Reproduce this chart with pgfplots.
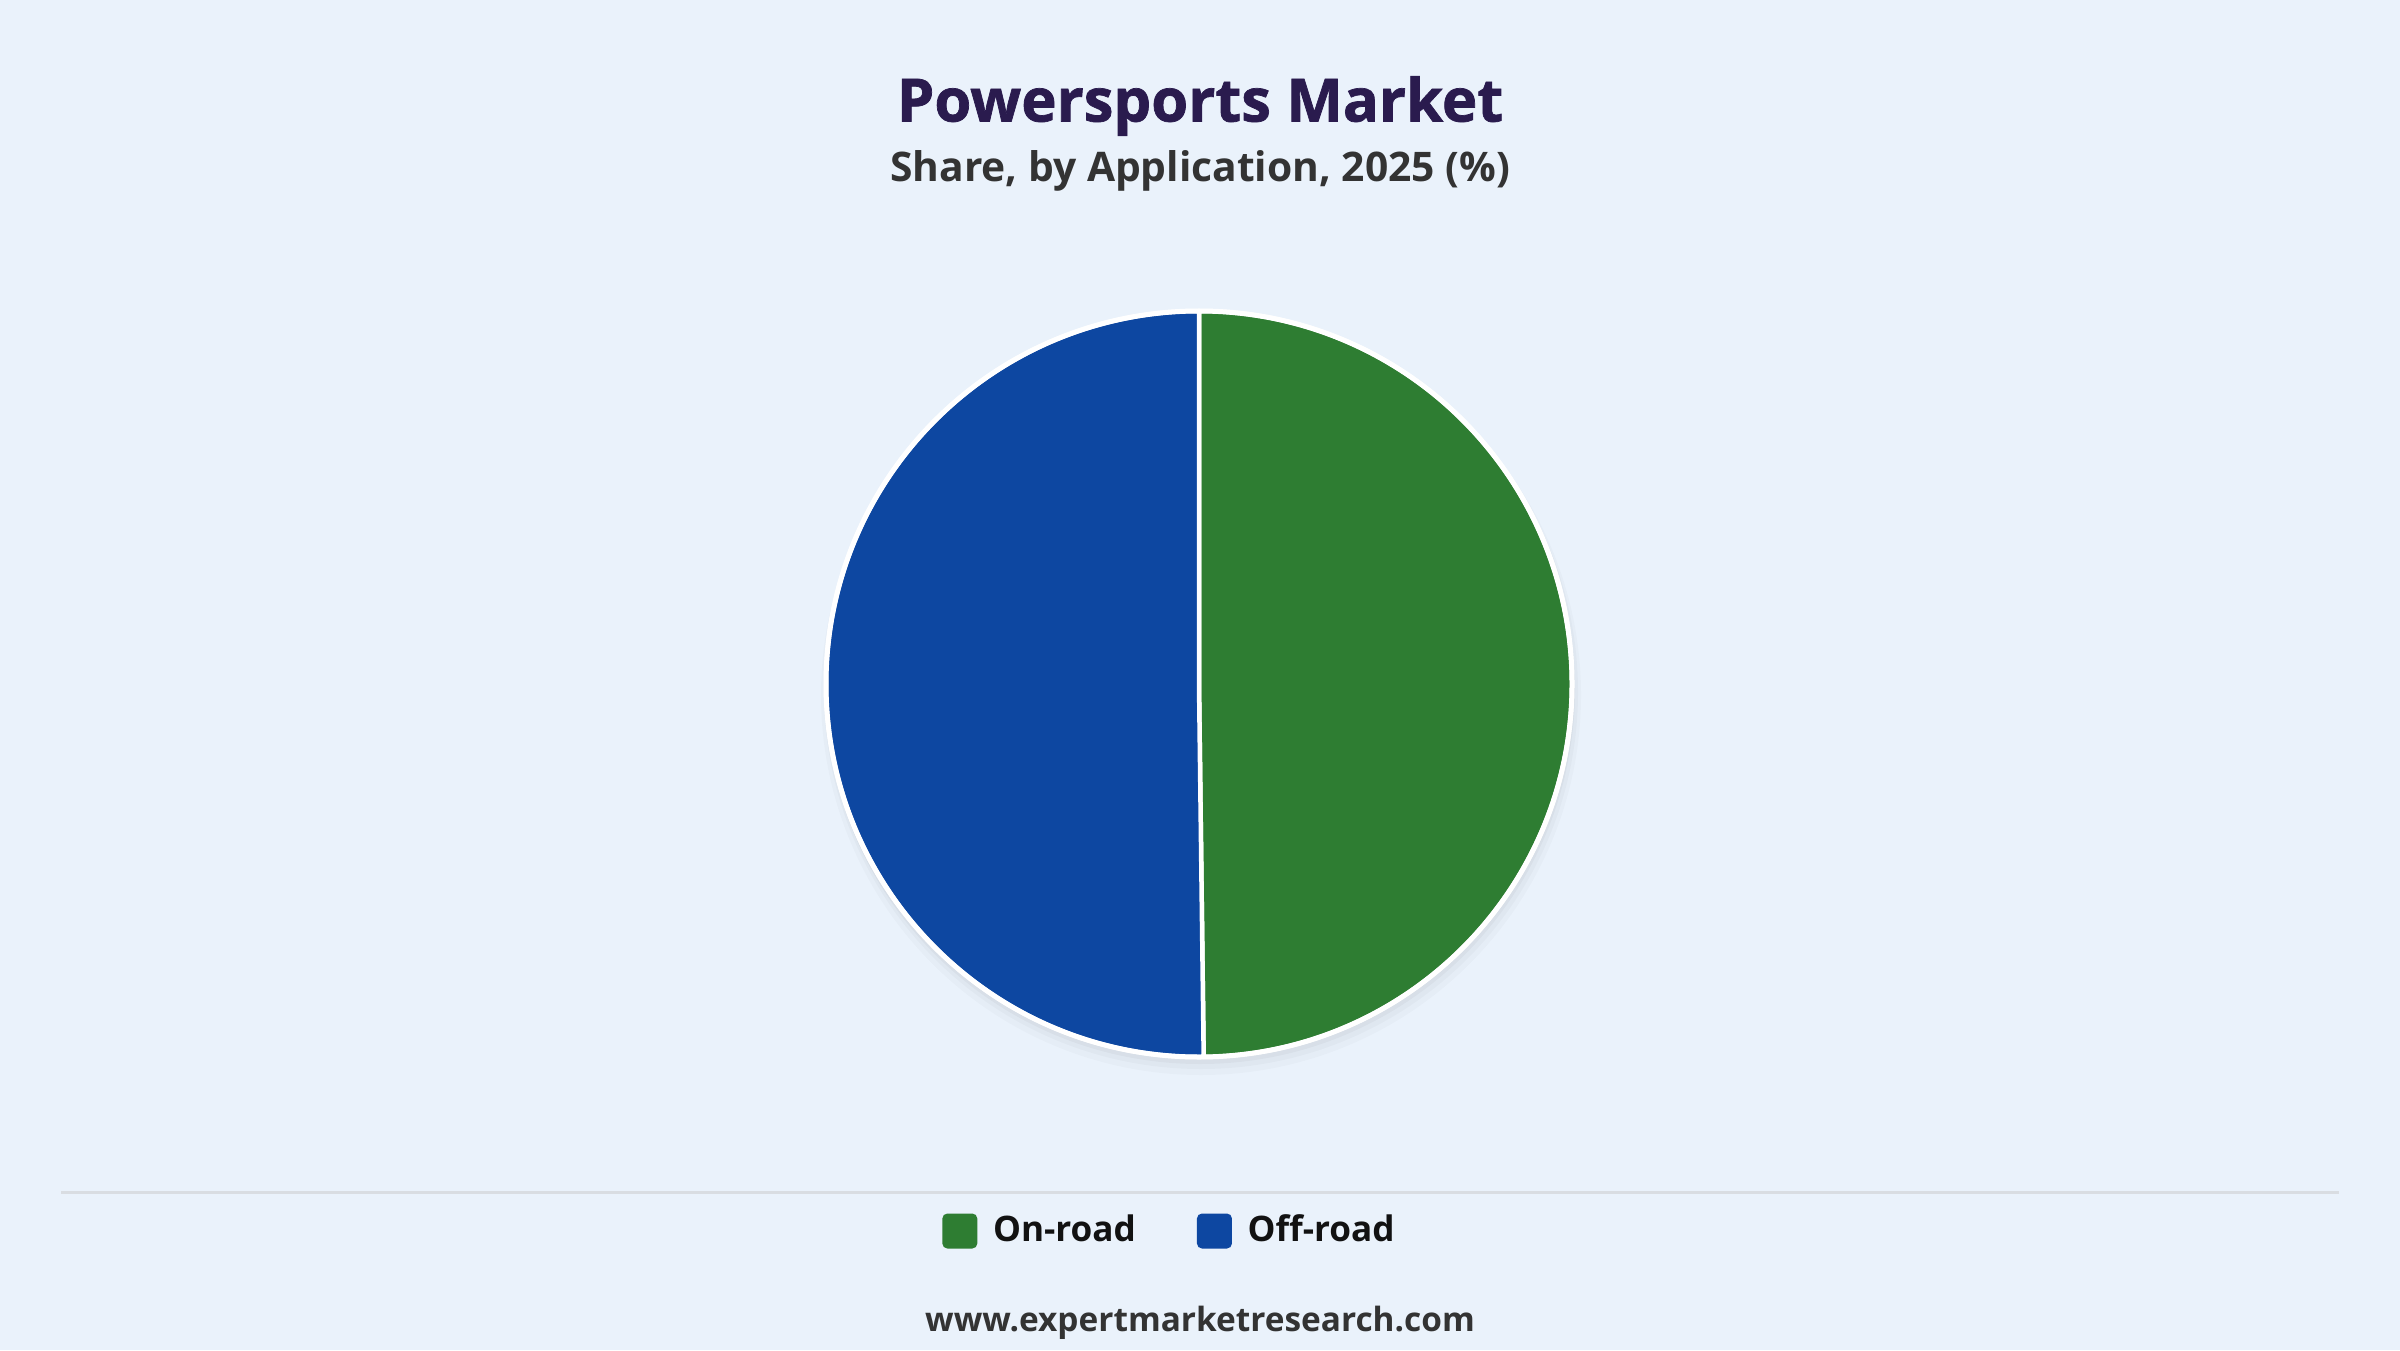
\documentclass[border=0pt]{standalone}
\usepackage{fontspec}
\setmainfont{Open Sans}
\usepackage{pgfplots}
\usepackage{pgfplotstable}
\pgfplotsset{compat=1.18}

\definecolor{bgcol}{HTML}{EAF2FB}
\definecolor{onroad}{HTML}{2E7D32}
\definecolor{offroad}{HTML}{0D47A1}
\definecolor{titlecol}{HTML}{2A1B4E}
\definecolor{subcol}{HTML}{333333}
\definecolor{sepcol}{HTML}{D9DDE2}

% share by application, 2025 (%)
\pgfplotstableread{
label share
On-road 49.8
Off-road 50.2
}\sharetable

\begin{document}
\begin{tikzpicture}
\fill[bgcol] (0,0) rectangle (24cm,13.5cm);
\useasboundingbox (0,0) rectangle (24cm,13.5cm);
\pgfplotstablegetelem{0}{share}\of\sharetable
\pgfmathsetmacro\angA{90-3.6*\pgfplotsretval}
\begin{axis}[
    at={(0,0)}, anchor=south west,
    width=24cm, height=13.5cm, scale only axis,
    hide axis, clip=false,
    xmin=0, xmax=2400, ymin=0, ymax=1350,
    legend columns=2,
    legend style={at={(axis cs:1172,119)}, anchor=center,
        draw=none, fill=none, text=black!93,
        font=\fontsize{10pt}{12pt}\selectfont\bfseries,
        /tikz/every even column/.append style={column sep=0.54cm}},
    legend image code/.code={
        \fill[#1, draw=none, rounded corners=0.05cm] (-0.08cm,-0.175cm) rectangle (0.27cm,0.175cm);
        \path (0.35cm,0);},
]
\addlegendimage{fill=onroad}
\addlegendentry{On-road}
\addlegendimage{fill=offroad}
\addlegendentry{Off-road}

% soft shadow, mostly below the pie
\fill[black, opacity=0.02] (axis cs:1201,655) circle[radius=3.80cm];
\fill[black, opacity=0.025] (axis cs:1201,658) circle[radius=3.77cm];
\fill[black, opacity=0.03] (axis cs:1200,661) circle[radius=3.75cm];

\fill[onroad, draw=white, line width=0.045cm, line join=round]
    (axis cs:1199,666) -- ++(90:3.73cm) arc[start angle=90, end angle=\angA, radius=3.73cm] -- cycle;
\fill[offroad, draw=white, line width=0.045cm, line join=round]
    (axis cs:1199,666) -- ++(\angA:3.73cm) arc[start angle=\angA, end angle=-270, radius=3.73cm] -- cycle;
\draw[white, line width=0.05cm] (axis cs:1199,666) circle[radius=3.73cm];

\draw[sepcol, line width=0.03cm] (axis cs:61,158) -- (axis cs:2339,158);

\node[anchor=center, text=titlecol, font=\fontsize{17pt}{20pt}\selectfont\bfseries\addfontfeature{FakeBold=1.2}]
    at (axis cs:1200,1244) {Powersports Market};
\node[anchor=center, text=subcol, font=\fontsize{11.6pt}{14pt}\selectfont\bfseries]
    at (axis cs:1200,1179) {Share, by Application, 2025 (\%)};
\node[anchor=center, text=subcol, font=\fontsize{9.5pt}{12pt}\selectfont\bfseries]
    at (axis cs:1200,27) {www.expertmarketresearch.com};
\end{axis}
\end{tikzpicture}
\end{document}
